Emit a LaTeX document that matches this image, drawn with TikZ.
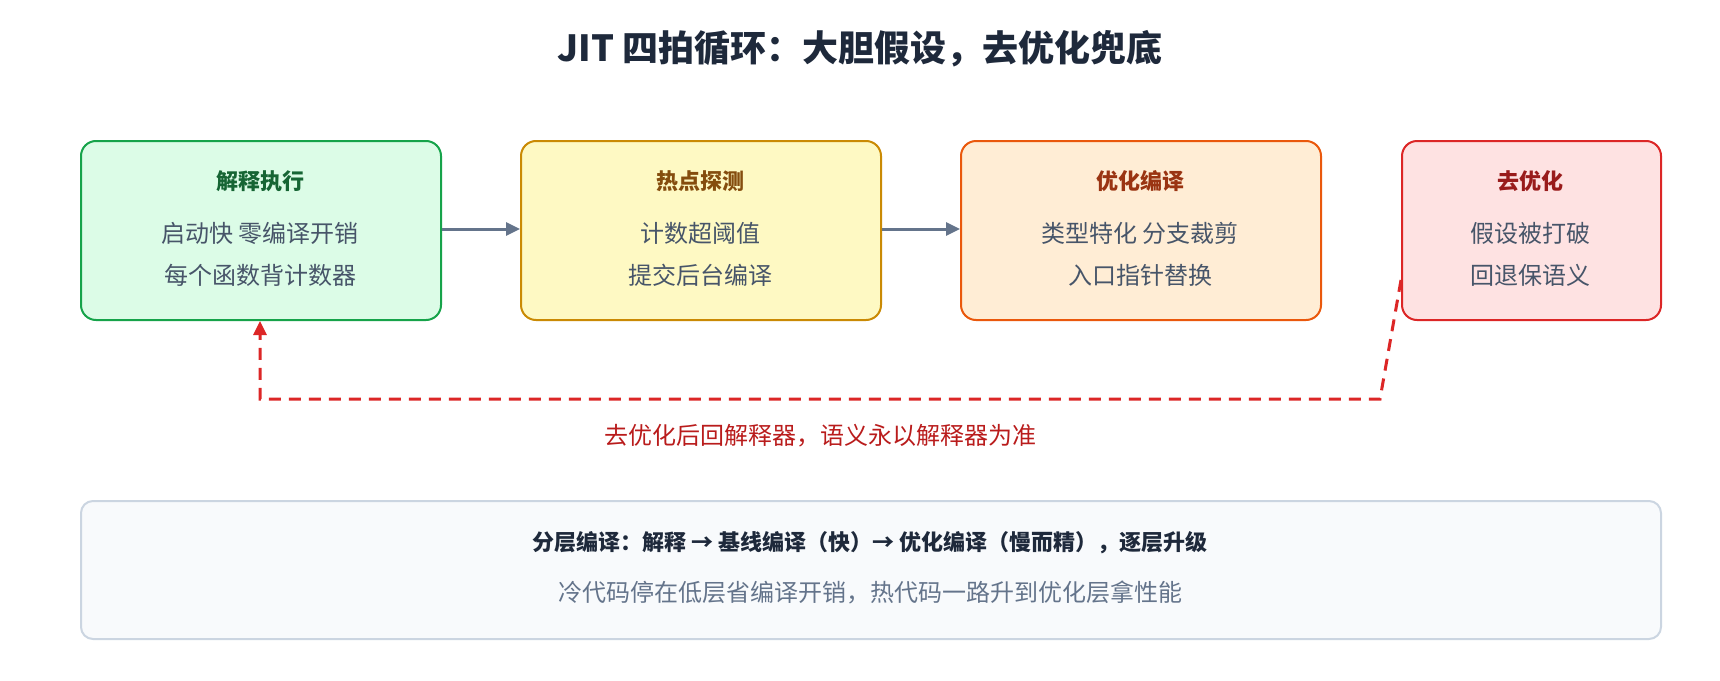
\documentclass[tikz,border=0pt]{standalone}
\usepackage{fontspec}
\setmainfont{Noto Sans CJK SC}
\usetikzlibrary{arrows.meta}
\definecolor{tl}{HTML}{1E293B}
\definecolor{bd}{HTML}{475569}
\definecolor{ar}{HTML}{64748B}
\tikzset{x=1pt,y=-1pt,
box/.style={draw,line width=2pt,rounded corners=15pt,minimum height=179pt,anchor=north west},
ttl/.style={font=\fontsize{22}{26}\selectfont\bfseries},
bod/.style={font=\fontsize{24}{28}\selectfont,text=bd},
arr/.style={draw=ar,line width=3pt,-{Triangle[length=14pt,width=13pt]}}}
\begin{document}
\begin{tikzpicture}
\useasboundingbox (0,0) rectangle (1720,680);
\node[font=\fontsize{36}{42}\selectfont\bfseries,text=tl] (title) at (860,49) {JIT 四拍循环：大胆假设，去优化兜底};
\node[box,minimum width=360pt,draw={rgb,255:red,22;green,163;blue,74},fill={rgb,255:red,220;green,252;blue,231}] (b1) at (80,140) {};
\node[box,minimum width=360pt,draw={rgb,255:red,202;green,138;blue,4},fill={rgb,255:red,254;green,249;blue,195}] (b2) at (520,140) {};
\node[box,minimum width=360pt,draw={rgb,255:red,234;green,88;blue,12},fill={rgb,255:red,255;green,237;blue,213}] (b3) at (960,140) {};
\node[box,minimum width=259pt,draw={rgb,255:red,220;green,38;blue,38},fill={rgb,255:red,254;green,226;blue,226}] (b4) at (1401,140) {};
\node[ttl,text={rgb,255:red,22;green,101;blue,52}] (t1) at (260,181) {解释执行};
\node[bod] (l1a) at (260,233) {启动快 零编译开销};
\node[bod] (l1b) at (260,275) {每个函数背计数器};
\node[ttl,text={rgb,255:red,133;green,77;blue,14}] (t2) at (700,181) {热点探测};
\node[bod] (l2a) at (700,233) {计数超阈值};
\node[bod] (l2b) at (700,275) {提交后台编译};
\node[ttl,text={rgb,255:red,154;green,52;blue,18}] (t3) at (1140,181) {优化编译};
\node[bod] (l3a) at (1140,233) {类型特化 分支裁剪};
\node[bod] (l3b) at (1140,275) {入口指针替换};
\node[ttl,text={rgb,255:red,153;green,27;blue,27}] (t4) at (1530,181) {去优化};
\node[bod] (l4a) at (1530,233) {假设被打破};
\node[bod] (l4b) at (1530,275) {回退保语义};
\draw[arr] (b1.east |- 0,229) -- (b2.west |- 0,229);
\draw[arr] (b2.east |- 0,229) -- (b3.west |- 0,229);
\coordinate (c1) at (1380,399);
\coordinate (c2) at (260,399);
\coordinate (s) at (1401,280);
\draw[draw={rgb,255:red,220;green,38;blue,38},line width=3pt,dash pattern=on 12pt off 8pt,-{Triangle[length=14pt,width=13pt]}] (s) -- (c1) -- (c2) -- (b1.south -| c2);
\node[font=\fontsize{24}{28}\selectfont,text={rgb,255:red,185;green,28;blue,28}] (lab) at (820,436) {去优化后回解释器，语义永以解释器为准};
\node[draw={rgb,255:red,203;green,213;blue,225},line width=2pt,fill={rgb,255:red,248;green,250;blue,252},rounded corners=12pt,minimum width=1580pt,minimum height=138pt,anchor=north west] (bot) at (80,500) {};
\node[font=\fontsize{22}{26}\selectfont\bfseries,text=tl] (bt1) at (870,543) {分层编译：解释 → 基线编译（快）→ 优化编译（慢而精），逐层升级};
\node[font=\fontsize{24}{28}\selectfont,text=ar] (bt2) at (870,592) {冷代码停在低层省编译开销，热代码一路升到优化层拿性能};
\end{tikzpicture}
\end{document}
